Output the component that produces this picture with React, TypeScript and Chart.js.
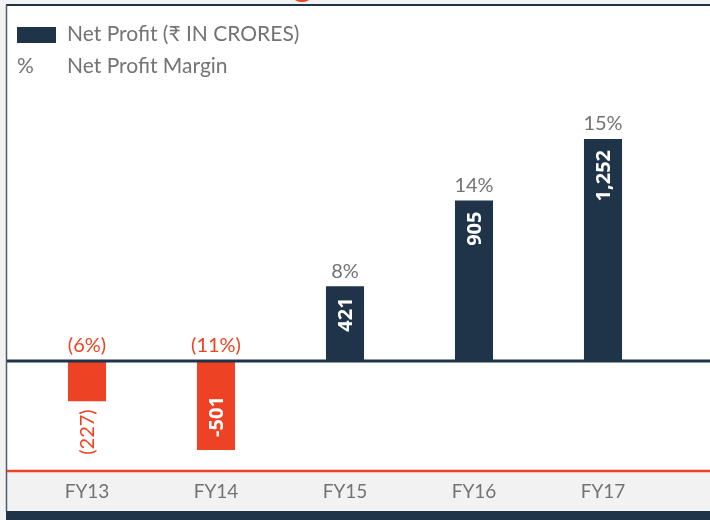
import React, { useEffect, useRef } from "react";
import { Chart, registerables } from "chart.js";

Chart.register(...registerables);

const categories = ["FY13", "FY14", "FY15", "FY16", "FY17"];
const netProfit = [-227, -501, 421, 905, 1252];
const profitLabels = ["(227)", "-501", "421", "905", "1,252"];
const marginLabels = ["(6%)", "(11%)", "8%", "14%", "15%"];
const legendLabels = ["Net Profit (\u20B9 IN CRORES)", "Net Profit Margin"];

const NAVY = "#1f3449";
const RED = "#ee4224";
const GRAY_TEXT = "#737373";
const BAND = "#f2f2f2";
const FONT = "Lato, 'Open Sans', 'DejaVu Sans', sans-serif";

const decorPlugin = {
  id: "decor",
  beforeDraw(chart: any) {
    const { ctx, width, height, chartArea } = chart;
    ctx.save();
    ctx.fillStyle = BAND;
    ctx.fillRect(0, 0, width, height);
    ctx.fillStyle = "#ffffff";
    ctx.fillRect(7, 6, width - 7, chartArea.bottom - 6);
    ctx.fillStyle = BAND;
    ctx.fillRect(7, chartArea.bottom, width - 7, 511 - chartArea.bottom);
    ctx.fillStyle = NAVY;
    ctx.fillRect(6, 511, width - 6, height - 511);
    ctx.strokeStyle = NAVY;
    ctx.lineWidth = 2;
    ctx.beginPath();
    ctx.moveTo(6, 5);
    ctx.lineTo(width, 5);
    ctx.stroke();
    ctx.strokeStyle = "#4d5d6e";
    ctx.lineWidth = 1.5;
    ctx.beginPath();
    ctx.moveTo(6.5, 5);
    ctx.lineTo(6.5, 511);
    ctx.stroke();
    ctx.fillStyle = RED;
    ctx.beginPath();
    ctx.ellipse(302, -2, 8, 4, 0, 0, Math.PI * 2);
    ctx.fill();
    ctx.restore();
  },
  afterDatasetsDraw(chart: any) {
    const { ctx, width, chartArea, scales } = chart;
    const x = scales.x;
    const y = scales.y;
    const zero = y.getPixelForValue(0);
    ctx.save();
    ctx.strokeStyle = NAVY;
    ctx.lineWidth = 3;
    ctx.beginPath();
    ctx.moveTo(7, zero);
    ctx.lineTo(width, zero);
    ctx.stroke();
    ctx.strokeStyle = RED;
    ctx.lineWidth = 2.5;
    ctx.beginPath();
    ctx.moveTo(7, chartArea.bottom);
    ctx.lineTo(width, chartArea.bottom);
    ctx.stroke();

    const meta = chart.getDatasetMeta(0);
    meta.data.forEach((bar: any, i: number) => {
      const v = netProfit[i];
      const cx = bar.x;
      const top = Math.min(bar.y, bar.base);
      const bottom = Math.max(bar.y, bar.base);
      const neg = v < 0;
      ctx.font = `20px ${FONT}`;
      ctx.fillStyle = neg ? RED : GRAY_TEXT;
      ctx.textAlign = "center";
      ctx.textBaseline = "bottom";
      ctx.fillText(marginLabels[i], cx, Math.min(top, zero) - 5);
      ctx.save();
      ctx.translate(cx, 0);
      ctx.rotate(-Math.PI / 2);
      ctx.textBaseline = "middle";
      ctx.font = `bold 20px 'Open Sans', ${FONT}`;
      const tw = ctx.measureText(profitLabels[i]).width;
      const len = bottom - top;
      if (len > tw + 16) {
        ctx.fillStyle = "#ffffff";
        if (neg) {
          ctx.textAlign = "left";
          ctx.fillText(profitLabels[i], -(bottom - 13), 1);
        } else {
          ctx.textAlign = "right";
          ctx.fillText(profitLabels[i], -(top + 11), 1);
        }
      } else {
        ctx.font = `20px ${FONT}`;
        ctx.fillStyle = RED;
        ctx.textAlign = "right";
        ctx.fillText(profitLabels[i], -(bottom + 8), 1);
      }
      ctx.restore();
    });

    ctx.font = `19px ${FONT}`;
    ctx.fillStyle = GRAY_TEXT;
    ctx.textAlign = "center";
    ctx.textBaseline = "middle";
    categories.forEach((c, i) => {
      ctx.fillText(c, x.getPixelForValue(i), 492);
    });

    ctx.fillStyle = NAVY;
    ctx.fillRect(17, 27, 39, 16);
    ctx.font = `21px ${FONT}`;
    ctx.fillStyle = GRAY_TEXT;
    ctx.textAlign = "left";
    ctx.textBaseline = "middle";
    ctx.fillText(legendLabels[0], 67, 34);
    ctx.fillText("%", 17, 66);
    ctx.fillText(legendLabels[1], 67, 66);
    ctx.restore();
  },
};

export default function App() {
  const ref = useRef<HTMLCanvasElement | null>(null);
  useEffect(() => {
    if (!ref.current) return;
    const chart = new Chart(ref.current, {
      type: "bar",
      data: {
        labels: categories,
        datasets: [
          {
            label: legendLabels[0],
            data: netProfit,
            backgroundColor: netProfit.map((v) => (v < 0 ? RED : NAVY)),
            barPercentage: 0.295,
            categoryPercentage: 1,
          },
        ],
      },
      options: {
        responsive: false,
        animation: false,
        events: [],
        layout: { padding: { top: 95, bottom: 49, left: 22.5, right: 42.5 } },
        plugins: { legend: { display: false }, tooltip: { enabled: false } },
        scales: {
          x: { display: false },
          y: { display: false, min: -620, max: 1500 },
        },
      },
      plugins: [decorPlugin],
    });
    return () => chart.destroy();
  }, []);
  return (
    <div style={{ position: "fixed", left: 0, top: 0, width: 710, height: 520 }}>
      <canvas ref={ref} width={710} height={520} style={{ display: "block" }} />
    </div>
  );
}
